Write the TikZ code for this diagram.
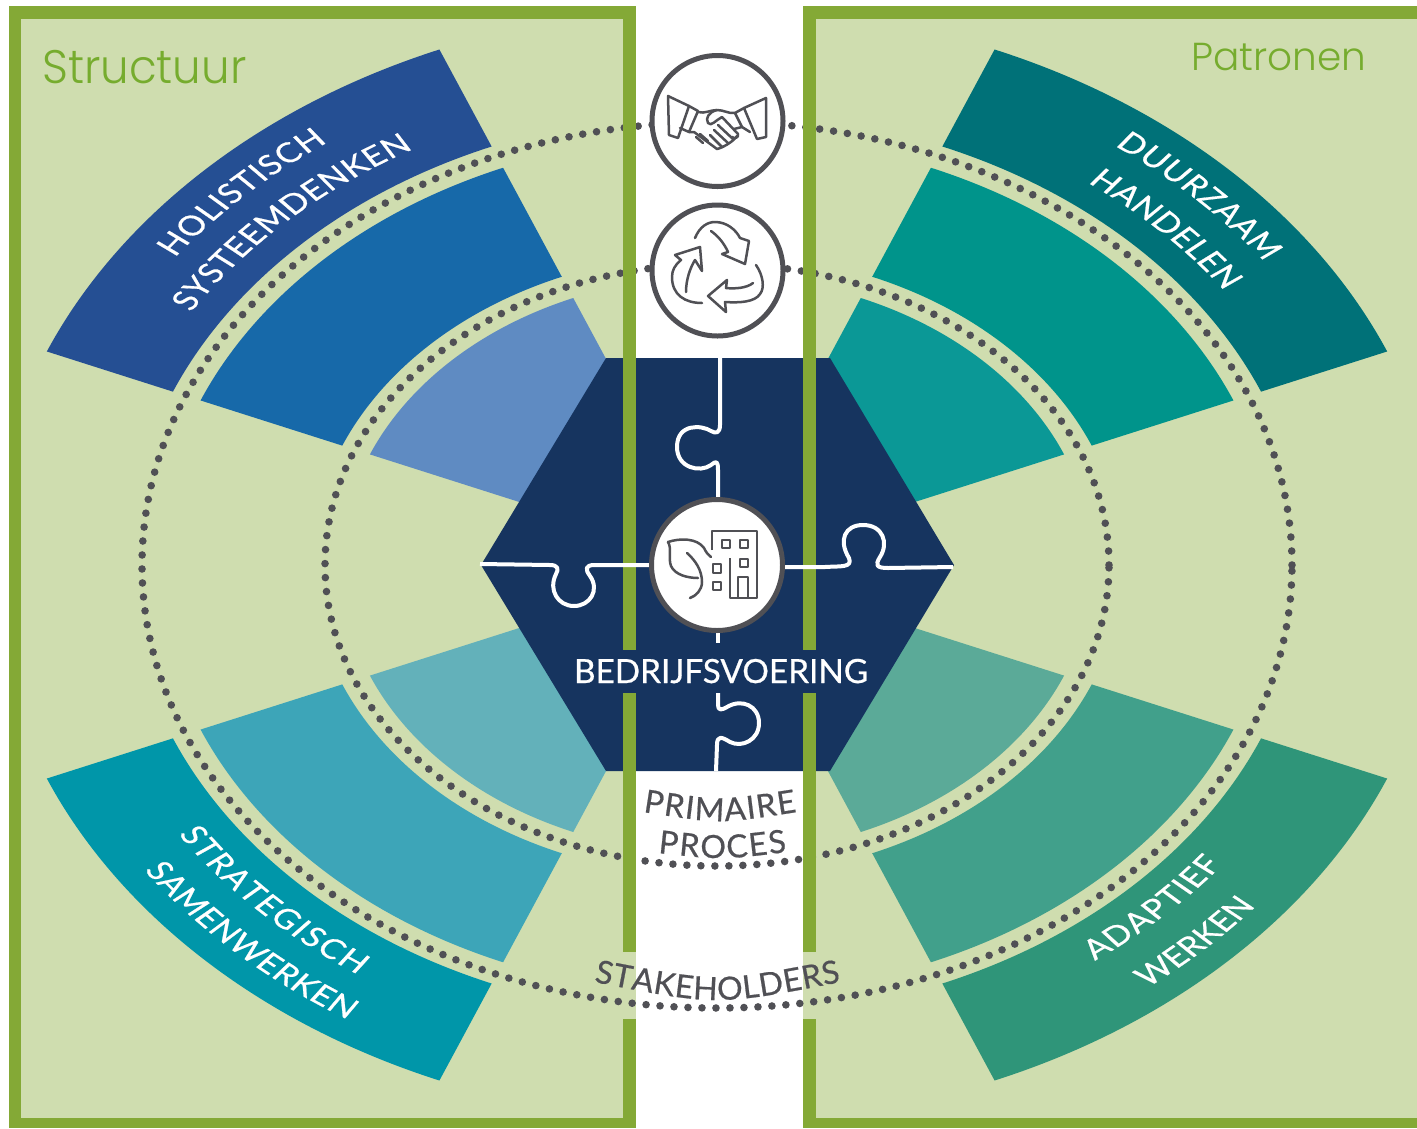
\documentclass[tikz,border=0pt]{standalone}
\usepackage{fontspec}
\usetikzlibrary{decorations.text}
\setmainfont{Lato}
\newfontfamily\medfont[FakeBold=0.6]{Lato}
\newfontfamily\titlefont{Poppins Light}
\definecolor{pale}{HTML}{CFDDAF}
\definecolor{barg}{HTML}{84A936}
\definecolor{titleg}{HTML}{76AC2E}
\definecolor{hexc}{HTML}{16345F}
\definecolor{ink}{HTML}{505055}
\definecolor{tla}{HTML}{254F93}
\definecolor{tlb}{HTML}{1769A9}
\definecolor{tlc}{HTML}{5F8BC2}
\definecolor{bla}{HTML}{0096A9}
\definecolor{blb}{HTML}{3DA5B8}
\definecolor{blc}{HTML}{63B1BA}
\definecolor{tra}{HTML}{007178}
\definecolor{trb}{HTML}{00948B}
\definecolor{trc}{HTML}{0B9896}
\definecolor{bra}{HTML}{2F9579}
\definecolor{brb}{HTML}{41A08B}
\definecolor{brc}{HTML}{5BAA98}
\newcommand{\lblfont}{\medfont\fontsize{27.5}{27.5}\selectfont\color{white}}
\newcommand{\inkfont}{\medfont\fontsize{32}{32}\selectfont\color{ink}}
\newcommand{\sector}[6]{\fill[#1] (#2:#5) arc[start angle=#2,end angle=#3,radius=#5] -- (#3:#4) arc[start angle=#3,end angle=#2,radius=#4] -- cycle;}
\newcommand{\arclabel}[4]{\path[decorate,decoration={text along path,text={|\lblfont|#4},text align={fit to path}}] (#1:#3) arc[start angle=#1,end angle=#2,radius=#3];}
\tikzset{
  px/.style={x=1pt,y=-1pt},
  ring/.style={circle,draw=ink,fill=white,line width=5pt,minimum size=131pt,inner sep=0pt},
  dotted ring/.style={draw=ink,line width=7.6pt,line cap=round,dash pattern=on 0pt off 14pt},
  puzzle/.style={draw=white,line width=4pt,line join=round},
  icon/.style={draw=ink,line width=2.5pt,line join=round,line cap=round},
  bar/.style={fill=barg},
}
\begin{document}
\begin{tikzpicture}[x=1pt,y=1pt]
\useasboundingbox (0,0) rectangle (1417,-1128);
\fill[white] (0,0) rectangle (1417,-1128);
\begin{scope}[px]
\fill[pale] (9,6) rectangle (636,1128);
\fill[pale] (803,6) rectangle (1417,1128);
\end{scope}
% sectors
\begin{scope}[shift={(717,-565)},xscale=1.3]
\sector{tla}{112.5}{157.5}{453}{558}{}
\sector{tlb}{112.5}{157.5}{312}{430}{}
\sector{tlc}{112.5}{157.5}{50}{289}{}
\sector{tra}{22.5}{67.5}{453}{558}{}
\sector{trb}{22.5}{67.5}{312}{430}{}
\sector{trc}{22.5}{67.5}{50}{289}{}
\sector{bla}{202.5}{247.5}{453}{558}{}
\sector{blb}{202.5}{247.5}{312}{430}{}
\sector{blc}{202.5}{247.5}{50}{289}{}
\sector{bra}{292.5}{337.5}{453}{558}{}
\sector{brb}{292.5}{337.5}{312}{430}{}
\sector{brc}{292.5}{337.5}{50}{289}{}
\end{scope}
% dotted ellipses
\draw[dotted ring] (717,-565) ellipse [x radius=575pt,y radius=443pt];
\draw[dotted ring] (717,-565) ellipse [x radius=392pt,y radius=301pt];
\begin{scope}[px]
% hexagon
\fill[hexc] (606,358) -- (830,358) -- (954,565) -- (830,771) -- (606,771) -- (481,565) -- cycle;
% frames
\fill[bar] (9,6) rectangle (636,19);
\fill[bar] (803,6) rectangle (1417,19);
\fill[bar] (9,6) rectangle (21,1128);
\fill[bar] (9,1118) rectangle (636,1128);
\fill[bar] (803,1118) rectangle (1417,1128);
\fill[bar] (623,6) rectangle (636,650);
\fill[bar] (623,693) rectangle (636,952);
\fill[bar] (623,1019) rectangle (636,1128);
\fill[bar] (803,6) rectangle (816,650);
\fill[bar] (803,693) rectangle (816,952);
\fill[bar] (803,1019) rectangle (816,1128);
% puzzle seams
\draw[puzzle] (720,358) -- (720,425) .. controls (720,433) and (716,434) .. (711,431) .. controls (702,425) and (677,423) .. (677,447) .. controls (677,468) and (700,473) .. (711,465) .. controls (716,461) and (718,460) .. (718,470) -- (718,497);
\draw[puzzle] (480,564) -- (550,565) .. controls (558,565) and (559,569) .. (556,574) .. controls (548,590) and (558,606) .. (574,606) .. controls (590,606) and (600,590) .. (590,576) .. controls (585,569) and (585,565) .. (595,565) -- (650,565);
\draw[puzzle] (785,567) -- (825,567) .. controls (840,566) and (853,568) .. (849,558) .. controls (838,540) and (845,525) .. (863,525) .. controls (883,525) and (889,543) .. (880,557) .. controls (875,565) and (876,568) .. (888,568) -- (953,567);
\draw[puzzle] (718,633) -- (718,643);
\draw[puzzle] (718,693) -- (718,705) .. controls (718,711) and (722,710) .. (727,707) .. controls (742,698) and (759,706) .. (759,723) .. controls (759,740) and (742,748) .. (730,742) .. controls (722,737) and (717,735) .. (717,745) -- (716,771);
% rings
\node[ring] (hands) at (717.5,121) {};
\node[ring] (cycle) at (717.5,270.5) {};
\node[ring] (building) at (717,565) {};
% handshake
\draw[icon] (668,96) -- (689,106) -- (678,138) -- (669,135) -- cycle;
\draw[icon] (689,106) -- (698,111) -- (689,132) -- (680,128);
\draw[icon] (766,98) -- (766,137) -- (757,139) -- (744,108) -- cycle;
\draw[icon] (744,108) -- (735,113) -- (742,127) -- (750,132);
\draw[icon] (698,112) .. controls (705,114) and (710,110) .. (717,110) .. controls (724,110) and (729,114) .. (735,113);
\draw[icon] (717,110) .. controls (709,112) and (705,118) .. (708,123) .. controls (711,127) and (716,120) .. (722,117) -- (738,134) .. controls (739,138) and (734,139) .. (732,137);
\draw[icon] (689,132) -- (694,132) -- (717,149) .. controls (722,148) and (733,142) .. (737,136);
\draw[icon] (718,125) -- (733,139);
\draw[icon] (714,130) -- (728,143);
\draw[icon] (710,135) -- (722,147);
\draw[icon] (696,137) -- (703,143);
\draw[icon] (700,134) -- (708,141);
\draw[icon] (742,127) -- (734,129);
% recycling
\draw[icon] (695,238) .. controls (700,226) and (708,222) .. (715,222) .. controls (727,222) and (736,230) .. (740,238);
\draw[icon] (740,238) -- (749,241) -- (745,264) -- (722,254) -- (728,252) .. controls (724,243) and (718,236) .. (711,231);
\draw[icon] (702,303) .. controls (685,303) and (672,295) .. (672,277) .. controls (672,270) and (675,265) .. (681,260) -- (675,255) -- (700,247) -- (702,271) -- (695,260) .. controls (690,268) and (686,280) .. (686,292);
\draw[icon] (756,265) .. controls (763,275) and (765,288) .. (760,294) .. controls (755,302) and (740,303) .. (725,302) -- (726,312) -- (708,296) -- (727,280) -- (726,288) .. controls (735,289) and (747,288) .. (753,283);
% building and leaf
\draw[icon,line cap=butt] (712,550) -- (712,531) -- (757,531) -- (757,598) -- (730,598) -- (730,558);
\draw[icon,line cap=butt] (738,598) -- (738,577) -- (748,577) -- (748,598);
\draw[icon,line cap=butt] (722,540) rectangle (730,548);
\draw[icon,line cap=butt] (740,540) rectangle (748,548);
\draw[icon,line cap=butt] (740,559) rectangle (748,567);
\draw[icon,line cap=butt] (713,564) rectangle (721,573);
\draw[icon,line cap=butt] (713,582) rectangle (721,590);
\draw[icon] (668,542) .. controls (680,538) and (697,538) .. (704,548) .. controls (706,552) and (708,555) .. (711,557);
\draw[icon] (668,542) .. controls (672,548) and (668,558) .. (671,566) .. controls (675,575) and (688,578) .. (698,578);
\draw[icon] (687,553) .. controls (695,560) and (702,570) .. (702,582) .. controls (702,590) and (696,596) .. (690,598);
% titles
\node[anchor=base west,inner sep=0pt,text=titleg,xscale=0.962,font=\titlefont\fontsize{47}{47}\selectfont] (structuur) at (42,83) {Structuur};
\node[anchor=base west,inner sep=0pt,text=titleg,font=\titlefont\fontsize{39}{39}\selectfont] (patronen) at (1191,70) {Patronen};
\node[anchor=base,inner sep=0pt,text=white,font=\medfont\fontsize{33.3}{33.3}\selectfont] (bedrijf) at (721,683) {BEDRIJFSVOERING};
% curved centre labels
\path[decorate,decoration={text along path,text={|\inkfont|PRIMAIRE},text align={fit to path}}] (643,812) .. controls (720,824) .. (797,812);
\path[decorate,decoration={text along path,text={|\inkfont|PROCES},text align={fit to path}}] (658,853) .. controls (722,860) .. (787,852);
\path[decorate,decoration={text along path,text={|\inkfont|STAKEHOLDERS},text align={fit to path}}] (594,982) .. controls (717,1006) .. (841,982);
\end{scope}
% sector labels, in the stretched space of the sectors
\begin{scope}[transform canvas={shift={(717pt,-565pt)},xscale=1.3}]
\arclabel{143.6}{125.3}{518}{HOLISTISCH}
\arclabel{148}{119.3}{477}{SYSTEEMDENKEN}
\arclabel{53.9}{35.8}{519}{DUURZAAM}
\arclabel{53.3}{35.1}{477}{HANDELEN}
\arclabel{213}{236}{494}{STRATEGISCH}
\arclabel{214.7}{238}{536}{SAMENWERKEN}
\arclabel{306.3}{322.4}{491}{ADAPTIEF}
\arclabel{308.1}{320.3}{537}{WERKEN}
\end{scope}
\end{tikzpicture}
\end{document}
